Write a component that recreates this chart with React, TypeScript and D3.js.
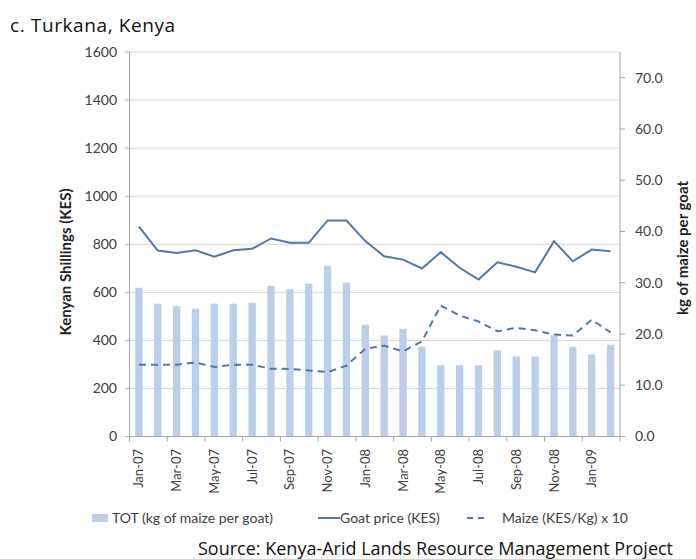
import React from 'react';
import * as d3 from 'd3';

const months = [
  'Jan-07', 'Feb-07', 'Mar-07', 'Apr-07', 'May-07', 'Jun-07', 'Jul-07', 'Aug-07', 'Sep-07', 'Oct-07', 'Nov-07', 'Dec-07',
  'Jan-08', 'Feb-08', 'Mar-08', 'Apr-08', 'May-08', 'Jun-08', 'Jul-08', 'Aug-08', 'Sep-08', 'Oct-08', 'Nov-08', 'Dec-08',
  'Jan-09', 'Feb-09',
];
// TOT (kg of maize per goat) – right axis
const tot = [29.0, 25.9, 25.4, 24.9, 25.9, 25.9, 26.1, 29.4, 28.7, 29.8, 33.3, 30.0,
  21.8, 19.7, 21.0, 17.5, 13.9, 13.9, 13.9, 16.8, 15.6, 15.6, 19.7, 17.5, 16.0, 17.9];
// Goat price (KES) – left axis
const goatPrice = [873, 774, 764, 775, 748, 775, 781, 824, 806, 806, 899, 899,
  813, 750, 736, 699, 767, 702, 653, 725, 706, 683, 813, 729, 778, 771];
// Maize (KES/Kg) x 10 – left axis
const maizeX10 = [299, 299, 299, 308, 289, 299, 299, 282, 281, 275, 268, 295,
  365, 378, 354, 396, 545, 503, 479, 438, 452, 442, 424, 420, 486, 433];
const leftTicks = [0, 200, 400, 600, 800, 1000, 1200, 1400, 1600];
const rightTicks = [0, 10, 20, 30, 40, 50, 60, 70];

const W = 696;
const H = 559;
const M = { left: 129.5, right: 620, top: 52, bottom: 436.5 };
const FONT = 'Lato, "Open Sans", sans-serif';
const BAR = '#bccfea';
const LINE = '#5277a8';
const GRID = '#d4d4d4';
const AXIS = '#a6a6a6';
const TXT = '#404040';

export default function App() {
  const x = d3.scaleBand<string>().domain(months).range([M.left, M.right]).paddingInner(0.61).paddingOuter(0.305);
  const step = x.step();
  const cx = (m: string) => (x(m) as number) + x.bandwidth() / 2;
  const yL = d3.scaleLinear().domain([0, 1600]).range([M.bottom, M.top]);
  const yR = d3.scaleLinear().domain([0, 75]).range([M.bottom, M.top]);

  const goatLine = d3.line<number>().x((_, i) => cx(months[i])).y((d) => yL(d))(goatPrice) as string;
  const maizeLine = d3.line<number>().x((_, i) => cx(months[i])).y((d) => yL(d))(maizeX10) as string;

  const boundaries = d3.range(0, months.length + 1, 2).map((i) => M.left + i * step);

  return (
    <svg width={W} height={H} style={{ position: 'absolute', left: 0, top: 0, background: '#fff' }} fontFamily={FONT}>
      <text x={10} y={32} fontSize={19} letterSpacing={0.6} fill="#111" fontFamily='"Open Sans", Lato, sans-serif'>c. Turkana, Kenya</text>

      {/* gridlines */}
      {leftTicks.map((t) => (
        <line key={'g' + t} x1={M.left} x2={M.right} y1={yL(t)} y2={yL(t)} stroke={GRID} strokeWidth={1} />
      ))}

      {/* bars */}
      {tot.map((v, i) => (
        <rect key={'b' + i} x={x(months[i]) as number} y={yR(v)} width={x.bandwidth()} height={M.bottom - yR(v)} fill={BAR} />
      ))}

      {/* lines */}
      <path d={maizeLine} fill="none" stroke={LINE} strokeWidth={2} strokeDasharray="7,5" />
      <path d={goatLine} fill="none" stroke={LINE} strokeWidth={2} />

      {/* axes */}
      <line x1={M.left} x2={M.left} y1={M.top} y2={M.bottom} stroke={AXIS} />
      <line x1={M.right} x2={M.right} y1={M.top} y2={M.bottom} stroke={AXIS} />
      <line x1={M.left} x2={M.right} y1={M.bottom} y2={M.bottom} stroke={AXIS} />

      {leftTicks.map((t) => (
        <g key={'lt' + t}>
          <line x1={M.left - 4} x2={M.left} y1={yL(t)} y2={yL(t)} stroke={AXIS} />
          <text x={117} y={yL(t)} dy="0.35em" textAnchor="end" fontSize={14} fill={TXT}>{t}</text>
        </g>
      ))}
      {rightTicks.map((t) => (
        <g key={'rt' + t}>
          <line x1={M.right} x2={M.right + 5} y1={yR(t)} y2={yR(t)} stroke={AXIS} />
          <text x={635} y={yR(t)} dy="0.35em" textAnchor="start" fontSize={14} fill={TXT}>{t.toFixed(1)}</text>
        </g>
      ))}
      {boundaries.map((b, i) => (
        <line key={'xt' + i} x1={b} x2={b} y1={M.bottom} y2={M.bottom + 5} stroke={AXIS} />
      ))}
      {months.map((m, i) =>
        i % 2 === 0 ? (
          <text key={'xl' + m} transform={`translate(${cx(m)},449) rotate(-90)`} dy="0.35em" textAnchor="end" fontSize={13} fill={TXT}>
            {m}
          </text>
        ) : null
      )}

      {/* axis titles */}
      <text transform="translate(66,262) rotate(-90)" dy="0.35em" textAnchor="middle" fontSize={15} fontWeight="bold" fill="#222">
        Kenyan Shillings (KES)
      </text>
      <text transform="translate(683,248) rotate(-90)" dy="0.35em" textAnchor="middle" fontSize={15} fontWeight="bold" fill="#222">
        kg of maize per goat
      </text>

      {/* legend */}
      <rect x={92} y={514} width={16} height={8} fill={BAR} />
      <text x={112} y={518} dy="0.35em" fontSize={14} fill={TXT}>TOT (kg of maize per goat)</text>
      <line x1={318} x2={340} y1={518} y2={518} stroke={LINE} strokeWidth={2} />
      <text x={340} y={518} dy="0.35em" fontSize={14} fill={TXT}>Goat price (KES)</text>
      <line x1={467} x2={488} y1={518} y2={518} stroke={LINE} strokeWidth={2} strokeDasharray="6,5" />
      <text x={502} y={518} dy="0.35em" fontSize={14} fill={TXT}>Maize (KES/Kg) x 10</text>

      <text x={198} y={555} fontSize={18} fill="#111" fontFamily='"Open Sans", Lato, sans-serif'>
        Source: Kenya-Arid Lands Resource Management Project
      </text>
    </svg>
  );
}
